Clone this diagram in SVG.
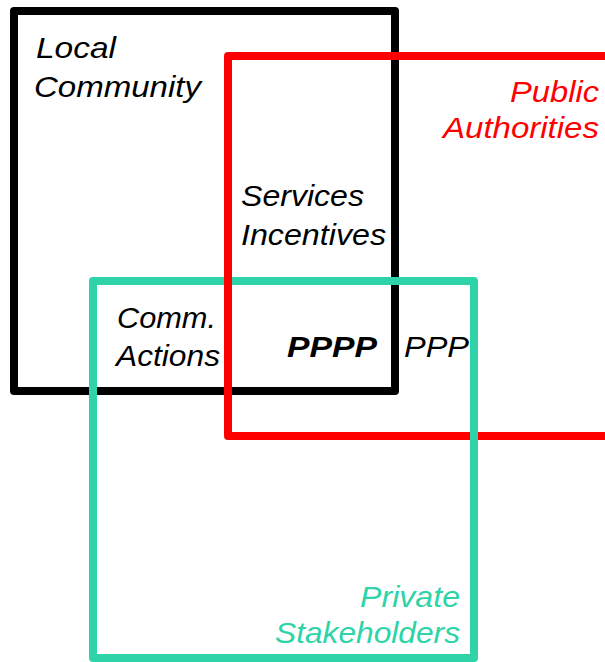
<svg xmlns="http://www.w3.org/2000/svg" width="605" height="662" viewBox="0 0 605 662">
<style>
.box{fill:none;stroke-width:8;stroke-linejoin:round}
.lbl{font-family:"Liberation Sans",Arial,sans-serif;font-style:italic;font-size:30px}
.blk{stroke:#000}
.red{stroke:#ff0000}
.teal{stroke:#2ed4a7}
</style>
<rect width="605" height="662" fill="#fff"/>
<g id="local-community">
<rect class="box blk" x="14" y="11" width="381" height="380"/>
<text class="lbl" x="36" y="58" textLength="80" lengthAdjust="spacingAndGlyphs">Local</text>
<text class="lbl" x="34" y="97" textLength="167" lengthAdjust="spacingAndGlyphs">Community</text>
</g>
<g id="public-authorities">
<rect class="box red" x="228" y="56" width="400" height="380"/>
<text class="lbl" x="599" y="102" text-anchor="end" fill="#ff0000" textLength="89" lengthAdjust="spacingAndGlyphs">Public</text>
<text class="lbl" x="599" y="138" text-anchor="end" fill="#ff0000" textLength="156" lengthAdjust="spacingAndGlyphs">Authorities</text>
</g>
<g id="private-stakeholders">
<rect class="box teal" x="93" y="281" width="381" height="377"/>
<text class="lbl" x="460" y="607" text-anchor="end" fill="#2ed4a7" textLength="100" lengthAdjust="spacingAndGlyphs">Private</text>
<text class="lbl" x="460" y="643" text-anchor="end" fill="#2ed4a7" textLength="185" lengthAdjust="spacingAndGlyphs">Stakeholders</text>
</g>
<g id="connectors">
<line class="red" x1="228" y1="260" x2="228" y2="300" stroke-width="8"/>
</g>
<g id="overlap-labels">
<text class="lbl" x="241" y="206" textLength="123" lengthAdjust="spacingAndGlyphs">Services</text>
<text class="lbl" x="241" y="245" textLength="145" lengthAdjust="spacingAndGlyphs">Incentives</text>
<text class="lbl" x="117" y="328" textLength="99" lengthAdjust="spacingAndGlyphs">Comm.</text>
<text class="lbl" x="116" y="366" textLength="104" lengthAdjust="spacingAndGlyphs">Actions</text>
<text class="lbl" x="287" y="357" font-weight="bold" textLength="90" lengthAdjust="spacingAndGlyphs">PPPP</text>
<text class="lbl" x="404" y="357" textLength="65" lengthAdjust="spacingAndGlyphs">PPP</text>
</g>
</svg>
